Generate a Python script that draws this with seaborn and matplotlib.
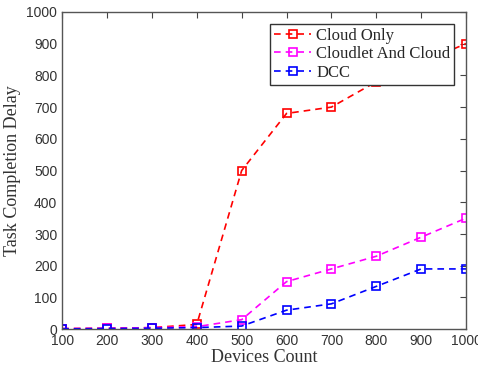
import pandas as pd
import seaborn as sns
import matplotlib.pyplot as plt

devices = [100, 200, 300, 400, 500, 600, 700, 800, 900, 1000]
cloud_only = [2, 3, 5, 15, 500, 680, 700, 780, 840, 900]
cloudlet_and_cloud = [2, 3, 5, 8, 30, 150, 190, 230, 290, 350]
dcc = [1, 2, 3, 5, 10, 60, 80, 135, 190, 190]

series_names = ['Cloud Only', 'Cloudlet And Cloud', 'DCC']
colors = ['#ff0000', '#ff00ff', '#0000ff']

df = pd.DataFrame({
    'Devices': devices * 3,
    'Delay': cloud_only + cloudlet_and_cloud + dcc,
    'Method': [n for n in series_names for _ in devices],
})

sns.set_style('white')
plt.rcParams['font.family'] = ['Liberation Sans', 'DejaVu Sans']

fig, ax = plt.subplots(figsize=(4.78, 3.72), dpi=100)
for name, c in zip(series_names, colors):
    sub = df[df['Method'] == name]
    sns.lineplot(x='Devices', y='Delay', data=sub, ax=ax, color=c,
                 linestyle=(0, (4, 3)), linewidth=1.2, marker='s',
                 markersize=5.5, markerfacecolor='none', markeredgecolor=c,
                 markeredgewidth=1.2, label=name)

ax.set_xlim(100, 1000)
ax.set_ylim(0, 1000)
ax.set_xticks(devices)
ax.set_yticks(range(0, 1001, 100))
ax.tick_params(direction='in', top=True, right=True, length=4,
               labelsize=10, colors='#444444', labelcolor='#333333')
for s in ax.spines.values():
    s.set_color('#555555')
    s.set_linewidth(1)
ax.set_xlabel('Devices Count', family='Liberation Serif', fontsize=13, color='#333333', labelpad=1)
ax.set_ylabel('Task Completion Delay', family='Liberation Serif', fontsize=13, color='#333333', labelpad=4)

leg = ax.legend(loc='upper right', prop={'family': 'Liberation Serif', 'size': 12},
                frameon=True, fancybox=False, framealpha=1, handlelength=2.2,
                handletextpad=0.3, borderpad=0.25, labelspacing=0.15,
                borderaxespad=0.7)
leg.get_frame().set_edgecolor('#333333')
leg.get_frame().set_linewidth(1)
leg.set_zorder(10)

fig.subplots_adjust(left=0.13, right=0.975, bottom=0.115, top=0.968)
fig.savefig('out.png', dpi=100)
